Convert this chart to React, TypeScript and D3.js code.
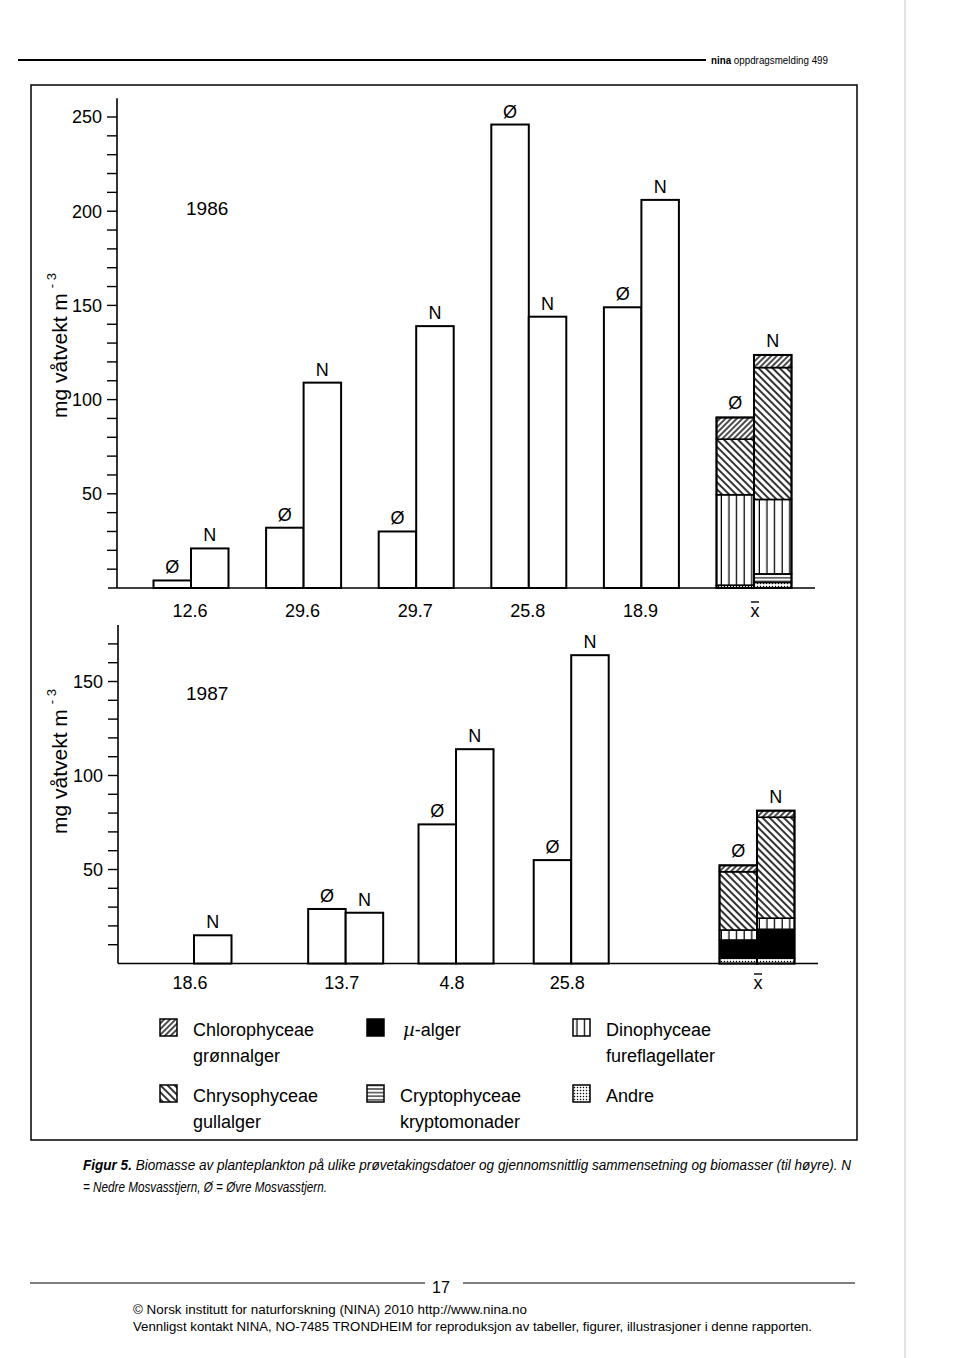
import React from "react";
import * as d3 from "d3";

// ---------- DATA ----------
const DATES_1986 = ["12.6", "29.6", "29.7", "25.8", "18.9"];
const OVRE_1986: (number | null)[] = [4, 32, 30, 246, 149];
const NEDRE_1986: (number | null)[] = [21, 109, 139, 144, 206];

const DATES_1987 = ["18.6", "13.7", "4.8", "25.8"];
const OVRE_1987: (number | null)[] = [null, 29, 74, 55];
const NEDRE_1987: (number | null)[] = [15, 27, 114, 164];

// stack order bottom -> top
const GROUPS = ["Andre", "Mu", "Crypto", "Dino", "Chryso", "Chloro"];
const MEAN_1986_OVRE = [1.5, 0, 0, 48, 29.5, 11.5];
const MEAN_1986_NEDRE = [3, 0, 4.5, 39.5, 70, 6.7];
const MEAN_1987_OVRE = [2.8, 9.7, 0, 5.3, 31, 3.4];
const MEAN_1987_NEDRE = [2.8, 15.4, 0, 5.9, 53.7, 3.5];

const Y_LABELS_1986 = [50, 100, 150, 200, 250];
const Y_LABELS_1987 = [50, 100, 150];

const LEGEND = [
  { key: "Chloro", l1: "Chlorophyceae", l2: "grønnalger" },
  { key: "Mu", l1: "-alger", l2: "" },
  { key: "Dino", l1: "Dinophyceae", l2: "fureflagellater" },
  { key: "Chryso", l1: "Chrysophyceae", l2: "gullalger" },
  { key: "Crypto", l1: "Cryptophyceae", l2: "kryptomonader" },
  { key: "Andre", l1: "Andre", l2: "" },
];

// ---------- LAYOUT ----------
const FONT = "'Liberation Sans', Arial, Helvetica, sans-serif";
const BW = 37.5;
const SLOT_1986 = [0, 1, 2, 3, 4];
const SLOT_1987 = [0, 1.347, 2.327, 3.35];
const MEAN_SLOT = 5;

function fillFor(key: string) {
  return key === "Mu" ? "#000" : `url(#pat-${key})`;
}

type PanelProps = {
  y: d3.ScaleLinear<number, number>;
  x: d3.ScaleLinear<number, number>;
  slots: number[];
  dates: string[];
  ovre: (number | null)[];
  nedre: (number | null)[];
  meanO: number[];
  meanN: number[];
  axisX: number;
  axisTopVal: number;
  maxTick: number;
  labels: number[];
  baseLeft: number;
  baseRight: number;
  year: string;
  yearY: number;
  titleStart: number;
  catBaseline: number;
  catShift: number;
};

function Panel(p: PanelProps) {
  const { y, x } = p;
  const ticks = d3.range(10, p.maxTick + 1, 10);
  const rows = [p.meanO, p.meanN].map((arr) =>
    Object.fromEntries(GROUPS.map((g, i) => [g, arr[i]]))
  );
  const series = d3.stack<any>().keys(GROUPS)(rows);
  const mcx = x(MEAN_SLOT);
  const totO = d3.sum(p.meanO);
  const totN = d3.sum(p.meanN);
  const y0 = y(0);
  return (
    <g>
      {/* axis */}
      <line x1={p.axisX} x2={p.axisX} y1={y(p.axisTopVal)} y2={y0} stroke="#000" strokeWidth={1.6} />
      {ticks.map((t) => (
        <line key={t} x1={p.axisX - 10} x2={p.axisX} y1={y(t)} y2={y(t)} stroke="#000" strokeWidth={1.4} />
      ))}
      {p.labels.map((t) => (
        <text key={t} x={p.axisX - 15} y={y(t)} dy="0.36em" textAnchor="end" fontSize={18} fontFamily={FONT}>
          {t}
        </text>
      ))}
      <line x1={p.baseLeft} x2={p.baseRight} y1={y0} y2={y0} stroke="#000" strokeWidth={1.6} />
      {/* y title */}
      <text
        transform={`translate(67,${p.titleStart}) rotate(-90)`}
        textAnchor="start"
        fontSize={21}
        fontFamily={FONT}
      >
        mg våtvekt m
        <tspan fontSize={13} dy={-11} dx={5}>- 3</tspan>
      </text>
      {/* year */}
      <text x={186} y={p.yearY} fontSize={19} fontFamily={FONT}>{p.year}</text>
      {/* simple bars */}
      {p.dates.map((d, i) => {
        const cx = x(p.slots[i]);
        const o = p.ovre[i];
        const n = p.nedre[i];
        return (
          <g key={d + i}>
            {o != null && (
              <g>
                <rect x={cx - BW} y={y(o)} width={BW} height={y0 - y(o)} fill="#fff" stroke="#000" strokeWidth={2} />
                <text x={cx - BW / 2} y={y(o) - 7} textAnchor="middle" fontSize={18} fontFamily={FONT}>Ø</text>
              </g>
            )}
            {n != null && (
              <g>
                <rect x={cx} y={y(n)} width={BW} height={y0 - y(n)} fill="#fff" stroke="#000" strokeWidth={2} />
                <text x={cx + BW / 2} y={y(n) - 7} textAnchor="middle" fontSize={18} fontFamily={FONT}>N</text>
              </g>
            )}
            <text x={cx + p.catShift} y={p.catBaseline} textAnchor="middle" fontSize={18} fontFamily={FONT}>{d}</text>
          </g>
        );
      })}
      {/* stacked mean bars */}
      {series.map((s) =>
        s.map((seg, j) => {
          const [a, b] = seg as any;
          if (b - a <= 0) return null;
          const bx = j === 0 ? mcx - BW : mcx;
          return (
            <rect
              key={s.key + j}
              x={bx}
              y={y(b)}
              width={BW}
              height={y(a) - y(b)}
              fill={fillFor(s.key)}
              stroke="#000"
              strokeWidth={1.6}
            />
          );
        })
      )}
      <rect x={mcx - BW} y={y(totO)} width={BW} height={y0 - y(totO)} fill="none" stroke="#000" strokeWidth={2} />
      <rect x={mcx} y={y(totN)} width={BW} height={y0 - y(totN)} fill="none" stroke="#000" strokeWidth={2} />
      <text x={mcx - BW / 2} y={y(totO) - 8} textAnchor="middle" fontSize={18} fontFamily={FONT}>Ø</text>
      <text x={mcx + BW / 2} y={y(totN) - 8} textAnchor="middle" fontSize={18} fontFamily={FONT}>N</text>
      <text x={mcx + 1} y={p.catBaseline} textAnchor="middle" fontSize={18} fontFamily={FONT}>x</text>
      <line x1={mcx - 3} x2={mcx + 5} y1={p.catBaseline - 15} y2={p.catBaseline - 15} stroke="#000" strokeWidth={1.4} />
    </g>
  );
}

export default function App() {
  const W = 960;
  const H = 1358;
  const y86 = d3.scaleLinear().domain([0, 250]).range([588, 117]);
  const y87 = d3.scaleLinear().domain([0, 150]).range([963.5, 681.5]);
  const x86 = d3.scaleLinear().domain([0, 5]).range([191, 754]);
  const x87 = d3.scaleLinear().domain([0, 5]).range([194, 757]);

  const legCols = [160, 367, 573];
  const legRows = [1019, 1085];

  return (
    <svg
      width={W}
      height={H}
      viewBox={`0 0 ${W} ${H}`}
      style={{ position: "absolute", left: 0, top: 0, background: "#fff" }}
    >
      <defs>
        <pattern id="pat-Chloro" patternUnits="userSpaceOnUse" width={4} height={4} patternTransform="rotate(45)">
          <rect width={4} height={4} fill="#fff" />
          <line x1={1} x2={1} y1={0} y2={4} stroke="#000" strokeWidth={1.4} />
        </pattern>
        <pattern id="pat-Chryso" patternUnits="userSpaceOnUse" width={5} height={5} patternTransform="rotate(-45)">
          <rect width={5} height={5} fill="#fff" />
          <line x1={1} x2={1} y1={0} y2={5} stroke="#000" strokeWidth={1.6} />
        </pattern>
        <pattern id="pat-Dino" patternUnits="userSpaceOnUse" width={7.6} height={10}>
          <rect width={7.6} height={10} fill="#fff" />
          <line x1={7} x2={7} y1={0} y2={10} stroke="#000" strokeWidth={1.3} />
        </pattern>
        <pattern id="pat-Crypto" patternUnits="userSpaceOnUse" width={10} height={3.6}>
          <rect width={10} height={3.6} fill="#fff" />
          <line x1={0} x2={10} y1={1.8} y2={1.8} stroke="#000" strokeWidth={1.1} />
        </pattern>
        <pattern id="pat-Andre" patternUnits="userSpaceOnUse" width={3} height={3}>
          <rect width={3} height={3} fill="#fff" />
          <circle cx={1.5} cy={1.5} r={0.75} fill="#000" />
        </pattern>
      </defs>

      <rect width={W} height={H} fill="#fff" />
      <line x1={905} x2={905} y1={0} y2={H} stroke="#e4e4e4" strokeWidth={2} />

      {/* header */}
      <line x1={18} x2={706} y1={60} y2={60} stroke="#000" strokeWidth={2} />
      <text x={711} y={64} fontSize={11} fontFamily={FONT} textLength={117} lengthAdjust="spacingAndGlyphs">
        <tspan fontWeight="bold">nina</tspan> oppdragsmelding 499
      </text>

      {/* frame */}
      <rect x={31} y={85} width={826} height={1055} fill="none" stroke="#000" strokeWidth={1.5} />

      <Panel
        y={y86}
        x={x86}
        slots={SLOT_1986}
        dates={DATES_1986}
        ovre={OVRE_1986}
        nedre={NEDRE_1986}
        meanO={MEAN_1986_OVRE}
        meanN={MEAN_1986_NEDRE}
        axisX={117}
        axisTopVal={260}
        maxTick={250}
        labels={Y_LABELS_1986}
        baseLeft={108}
        baseRight={815}
        year="1986"
        yearY={215}
        titleStart={418}
        catBaseline={617}
        catShift={-1}
      />
      <Panel
        y={y87}
        x={x87}
        slots={SLOT_1987}
        dates={DATES_1987}
        ovre={OVRE_1987}
        nedre={NEDRE_1987}
        meanO={MEAN_1987_OVRE}
        meanN={MEAN_1987_NEDRE}
        axisX={118}
        axisTopVal={180}
        maxTick={170}
        labels={Y_LABELS_1987}
        baseLeft={118}
        baseRight={818}
        year="1987"
        yearY={700}
        titleStart={834}
        catBaseline={989}
        catShift={-4}
      />

      {/* legend */}
      {LEGEND.map((it, i) => {
        const col = i % 3;
        const row = Math.floor(i / 3);
        const sx = legCols[col];
        const sy = legRows[row];
        const tx = sx + 33;
        return (
          <g key={it.key}>
            <rect x={sx} y={sy} width={17} height={17} fill={fillFor(it.key)} stroke="#000" strokeWidth={1.5} />
            <text x={it.key === "Mu" ? tx + 3 : tx} y={sy + 17} fontSize={18} fontFamily={FONT}>
              {it.key === "Mu" && (
                <tspan fontStyle="italic" fontFamily="'DejaVu Serif', serif">µ</tspan>
              )}
              {it.l1}
            </text>
            {it.l2 && (
              <text x={tx} y={sy + 43} fontSize={18} fontFamily={FONT}>{it.l2}</text>
            )}
          </g>
        );
      })}

      {/* caption */}
      <text x={83} y={1170} fontSize={14} fontStyle="italic" fontFamily={FONT} textLength={768} lengthAdjust="spacingAndGlyphs">
        <tspan fontWeight="bold">Figur 5.</tspan> Biomasse av planteplankton på ulike prøvetakingsdatoer og gjennomsnittlig sammensetning og biomasser (til høyre). N
      </text>
      <text x={83} y={1192} fontSize={14} fontStyle="italic" fontFamily={FONT} textLength={244} lengthAdjust="spacingAndGlyphs">
        = Nedre Mosvasstjern, Ø = Øvre Mosvasstjern.
      </text>

      {/* footer */}
      <line x1={30} x2={425} y1={1283} y2={1283} stroke="#000" strokeWidth={1.2} />
      <line x1={463} x2={855} y1={1283} y2={1283} stroke="#000" strokeWidth={1.2} />
      <text x={441} y={1293} textAnchor="middle" fontSize={16} fontFamily={FONT}>17</text>
      <text x={133} y={1314} fontSize={13} fontFamily={FONT} textLength={394} lengthAdjust="spacingAndGlyphs">
        © Norsk institutt for naturforskning (NINA) 2010 http://www.nina.no
      </text>
      <text x={133} y={1331} fontSize={13} fontFamily={FONT} textLength={679} lengthAdjust="spacingAndGlyphs">
        Vennligst kontakt NINA, NO-7485 TRONDHEIM for reproduksjon av tabeller, figurer, illustrasjoner i denne rapporten.
      </text>
    </svg>
  );
}
